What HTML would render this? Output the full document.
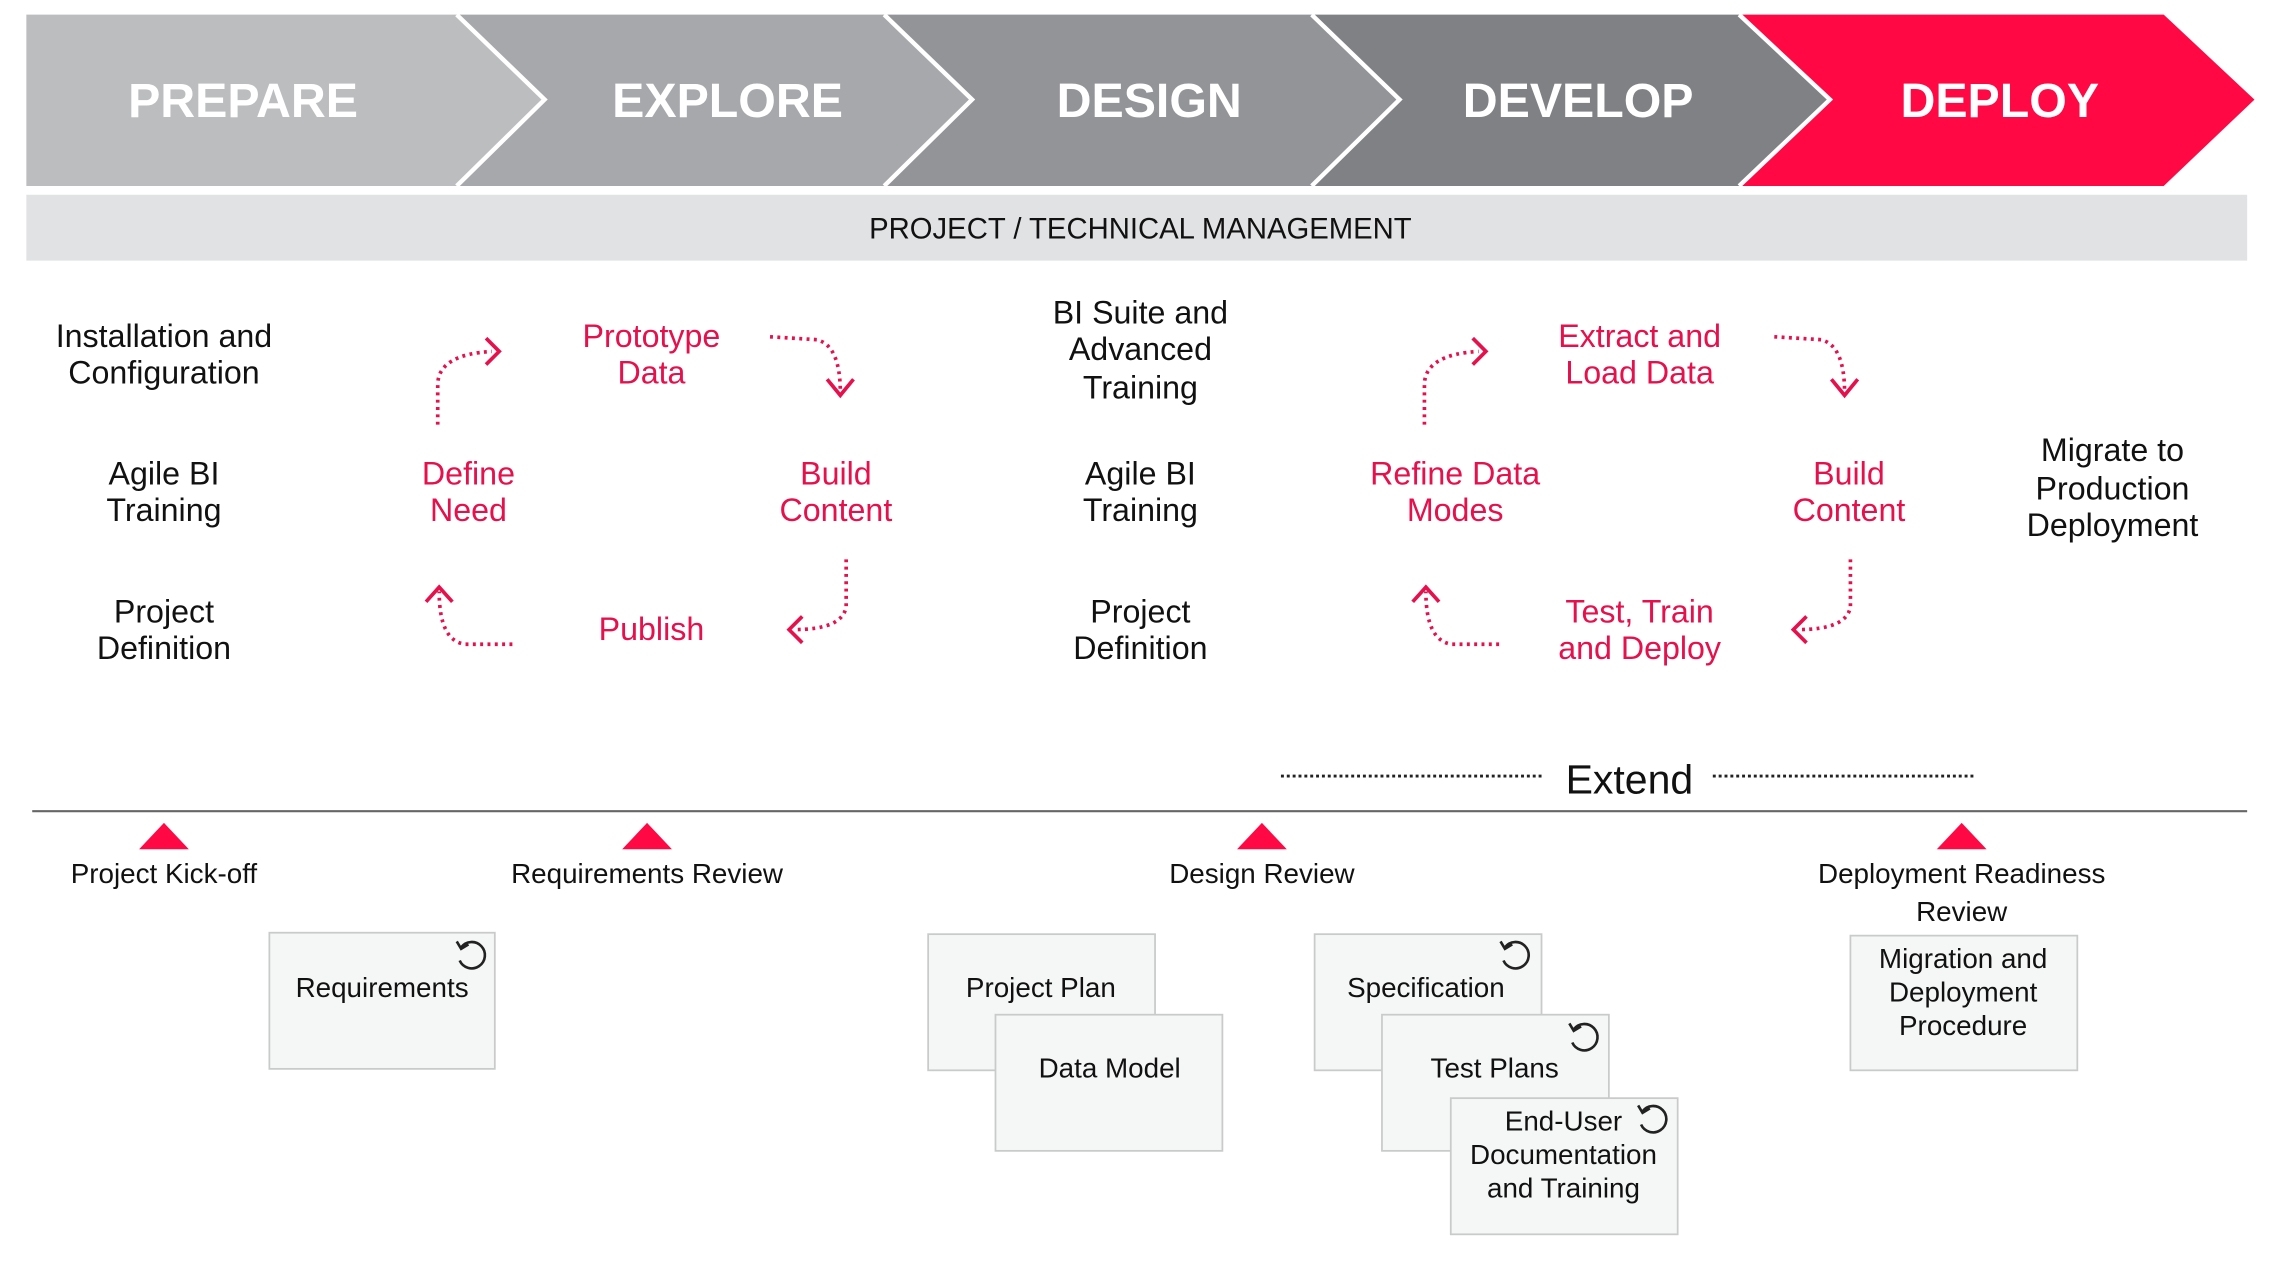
<!DOCTYPE html>
<html><head><meta charset="utf-8"><style>
html,body{margin:0;padding:0;background:#fff;}
svg{display:block;}
text{font-family:"Liberation Sans","DejaVu Sans",sans-serif;}
</style></head><body>
<svg width="2294" height="1268" viewBox="0 0 1567 866" preserveAspectRatio="none" xmlns="http://www.w3.org/2000/svg">
<defs>
<g id="cyc"><path d="M -7 -5 A 9 9 0 1 1 -8 4" fill="none" stroke="#222" stroke-width="1.8"/><path d="M -10 -9 L -7 -4 L -2 -7" fill="none" stroke="#222" stroke-width="1.8"/></g>
</defs>
<polygon points="18,10 312,10 372,68 312,127 18,127" fill="#bcbdbf"/>
<polygon points="312,10 604,10 664,68 604,127 312,127 372,68" fill="#a7a8ab"/>
<polygon points="604,10 896,10 956,68 896,127 604,127 664,68" fill="#939498"/>
<polygon points="896,10 1188,10 1250,68 1188,127 896,127 956,68" fill="#808184"/>
<polygon points="1188,10 1478,10 1540,68 1478,127 1188,127 1250,68" fill="#ff0844"/>
<g stroke="#fff" stroke-width="3" fill="none">
<polyline points="312,10 372,68 312,127"/><polyline points="604,10 664,68 604,127"/><polyline points="896,10 956,68 896,127"/><polyline points="1188,10 1250,68 1188,127"/>
</g>
<g fill="#fff" font-weight="bold" font-size="33" text-anchor="middle">
<text x="166" y="80">PREPARE</text><text x="497" y="80">EXPLORE</text><text x="785" y="80">DESIGN</text><text x="1078" y="80">DEVELOP</text><text x="1366" y="80">DEPLOY</text>
</g>
<rect x="18" y="133" width="1517" height="45" fill="#e1e2e4"/>
<text x="779" y="163" font-size="20" text-anchor="middle" fill="#111">PROJECT / TECHNICAL MANAGEMENT</text>
<g font-size="22" fill="#111" text-anchor="middle">
<text x="112" y="237">Installation and</text><text x="112" y="262">Configuration</text>
<text x="112" y="331">Agile BI</text><text x="112" y="356">Training</text>
<text x="112" y="425">Project</text><text x="112" y="450">Definition</text>
<text x="779" y="221">BI Suite and</text><text x="779" y="246">Advanced</text><text x="779" y="272">Training</text>
<text x="779" y="331">Agile BI</text><text x="779" y="356">Training</text>
<text x="779" y="425">Project</text><text x="779" y="450">Definition</text>
<text x="1443" y="315">Migrate to</text><text x="1443" y="341">Production</text><text x="1443" y="366">Deployment</text>
</g>
<g font-size="22" fill="#e5104c" text-anchor="middle">
<text x="445" y="237">Prototype</text><text x="445" y="262">Data</text>
<text x="320" y="331">Define</text><text x="320" y="356">Need</text>
<text x="571" y="331">Build</text><text x="571" y="356">Content</text>
<text x="445" y="437">Publish</text>
<text x="1120" y="237">Extract and</text><text x="1120" y="262">Load Data</text>
<text x="994" y="331">Refine Data</text><text x="994" y="356">Modes</text>
<text x="1263" y="331">Build</text><text x="1263" y="356">Content</text>
<text x="1120" y="425">Test, Train</text><text x="1120" y="450">and Deploy</text>
</g>
<g id="cA" fill="none" stroke="#e5104c">
<path d="M299,290 L299,262 Q300,242 336,240" stroke-width="2.5" stroke-dasharray="2,3"/>
<polyline points="332,231 341,240 332,249" stroke-width="2.5"/>
<path d="M350,440 L318,440 Q300,438 300,404" stroke-width="2.5" stroke-dasharray="2,3"/>
<polyline points="291,411 300,401 309,411" stroke-width="2.5"/>
</g>
<g id="cB" fill="none" stroke="#e5104c">
<path d="M526,230 L558,232 Q574,236 574,268" stroke-width="2.5" stroke-dasharray="2,3"/>
<polyline points="565,259 574,270 583,259" stroke-width="2.5"/>
<path d="M578,382 L578,414 Q576,430 542,430" stroke-width="2.5" stroke-dasharray="2,3"/>
<polyline points="548,421 539,430 548,439" stroke-width="2.5"/>
</g>
<use href="#cA" transform="translate(674,0)"/>
<use href="#cB" transform="translate(686,0)"/>
<line x1="875" y1="530" x2="1055" y2="530" stroke="#222" stroke-width="2" stroke-dasharray="2,2"/>
<line x1="1170" y1="530" x2="1350" y2="530" stroke="#222" stroke-width="2" stroke-dasharray="2,2"/>
<text x="1113" y="542" font-size="28" text-anchor="middle" fill="#111">Extend</text>
<line x1="22" y1="554" x2="1535" y2="554" stroke="#666" stroke-width="1.5"/>
<g fill="#ff0844">
<polygon points="112,562 95,580 129,580"/><polygon points="442,562 425,580 459,580"/><polygon points="862,562 845,580 879,580"/><polygon points="1340,562 1323,580 1357,580"/>
</g>
<g font-size="19" fill="#111" text-anchor="middle">
<text x="112" y="603">Project Kick-off</text><text x="442" y="603">Requirements Review</text><text x="862" y="603">Design Review</text>
<text x="1340" y="603">Deployment Readiness</text><text x="1340" y="629">Review</text>
</g>
<g fill="#f5f6f6" stroke="#c9caca" stroke-width="1.2">
<rect x="184" y="637" width="154" height="93"/>
<rect x="634" y="638" width="155" height="93"/>
<rect x="680" y="693" width="155" height="93"/>
<rect x="898" y="638" width="155" height="93"/>
<rect x="944" y="693" width="155" height="93"/>
<rect x="991" y="750" width="155" height="93"/>
<rect x="1264" y="639" width="155" height="92"/>
</g>
<g font-size="19" fill="#111" text-anchor="middle">
<text x="261" y="681">Requirements</text>
<text x="711" y="681">Project Plan</text>
<text x="758" y="736">Data Model</text>
<text x="974" y="681">Specification</text>
<text x="1021" y="736">Test Plans</text>
<text x="1068" y="772">End-User</text><text x="1068" y="795">Documentation</text><text x="1068" y="818">and Training</text>
<text x="1341" y="661">Migration and</text><text x="1341" y="684">Deployment</text><text x="1341" y="707">Procedure</text>
</g>
<use href="#cyc" transform="translate(322,652)"/>
<use href="#cyc" transform="translate(1035,652)"/>
<use href="#cyc" transform="translate(1082,708)"/>
<use href="#cyc" transform="translate(1129,764)"/>
</svg>
</body></html>
